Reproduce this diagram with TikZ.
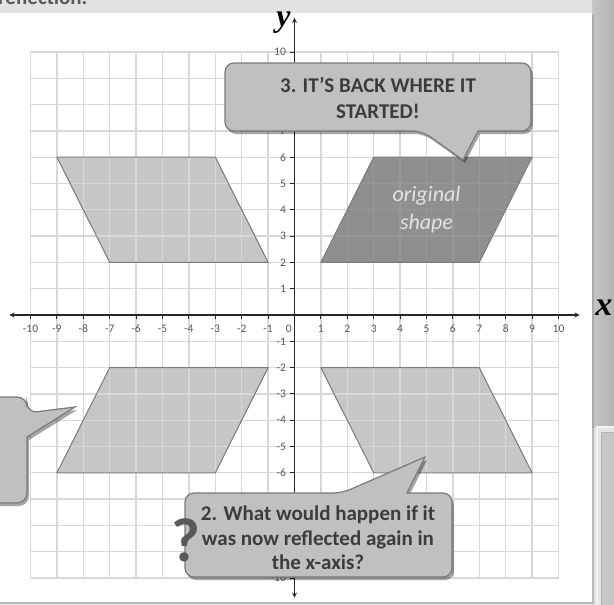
\documentclass[tikz,border=0pt]{standalone}
\usepackage{fontspec}
\setmainfont{Carlito}
\newfontfamily\letterfont{Liberation Serif}
\usetikzlibrary{shadows}

\definecolor{pagegrey}{HTML}{E2E2E2}
\definecolor{gridgrey}{HTML}{D8D8D8}
\definecolor{lightshape}{HTML}{C6C6C6}
\definecolor{darkshape}{HTML}{8F8F8F}
\definecolor{edgegrey}{HTML}{7A7A7A}
\definecolor{bubblegrey}{HTML}{C0C0C0}
\definecolor{inkgrey}{HTML}{3C3C3C}

\tikzstyle{gridline} = [draw=gridgrey, line width=1.3pt, step=1]
\tikzstyle{axisline} = [line width=1.3pt, draw=black!85, <->, >=stealth]
\tikzstyle{axistick} = [line width=0.9pt, draw=black!85]
\tikzstyle{ticklabel} = [inner sep=0pt, text=black!65, font=\fontsize{11.5}{11.5}\selectfont]
\tikzstyle{shapeedge} = [draw=edgegrey, line width=1pt, line join=round]
\tikzset{
  bubble/.style={
    fill=bubblegrey,
    draw=edgegrey,
    line width=1.2pt,
    drop shadow={shadow xshift=2pt, shadow yshift=-3pt, opacity=0.35, fill=black}
  },
  bubbletext/.style={text=inkgrey, align=center, font=\fontsize{21}{26}\selectfont\bfseries}
}

\begin{document}
\begin{tikzpicture}[x=1pt, y=-1pt]
  \useasboundingbox (0,0) rectangle (614,605);
  \clip (0,0) rectangle (614,605);
  % page behind the panel
  \fill[pagegrey] (0,0) rectangle (614,605);
  \shade[left color=gray!45, right color=gray!60] (592,0) rectangle (614,427);
  \filldraw[fill=gray!20, draw=gray!10, line width=1.5pt] (597,427) rectangle (620,610);
  \filldraw[fill=gray!45, draw=gray!60, line width=1pt] (601,432) rectangle (620,610);
  \node (title) [anchor=base west, inner sep=0pt, text=black!65, font=\fontsize{21}{21}\selectfont\bfseries] at (-2,5) {reflection.};
  \fill[white, drop shadow={shadow xshift=2pt, shadow yshift=-2pt, opacity=0.4}] (-10,13) rectangle (592,602);

  \begin{scope}[shift={(294.5,315)}, x=26.4pt, y=26.3pt]
    \foreach \sx/\sy in {-1/1, -1/-1, 1/-1}
      \fill[lightshape] (\sx*1,\sy*2) -- (\sx*7,\sy*2) -- (\sx*9,\sy*6) -- (\sx*3,\sy*6) -- cycle;
    \draw[gridline] (-10,-10) grid (10,10);
    \begin{scope}
      \clip (1,2) -- (7,2) -- (9,6) -- (3,6) -- cycle;
      \fill[darkshape] (1,2) rectangle (9,6);
      \draw[gridline, draw opacity=0.12] (-10,-10) grid (10,10);
    \end{scope}
    \foreach \sx/\sy in {1/1, -1/1, -1/-1, 1/-1}
      \draw[shapeedge] (\sx*1,\sy*2) -- (\sx*7,\sy*2) -- (\sx*9,\sy*6) -- (\sx*3,\sy*6) -- cycle;
    \draw[axisline] (-10.8,0) -- (10.8,0);
    \draw[axisline] (0,-10.75) -- (0,11.3);
    \foreach \i in {-10,...,-1,1,2,...,10} {
      \draw[axistick] (\i,0) -- (\i,-0.16);
      \node (xl\i) [ticklabel, anchor=north] at (\i,-0.36) {\i};
      \draw[axistick] (0,\i) -- (-0.16,\i);
      \node (yl\i) [ticklabel, anchor=east] at (-0.32,\i) {\i};
    }
    \node (xl0) [ticklabel, anchor=north] at (-0.22,-0.36) {0};
    \node (xname) [font=\letterfont\fontsize{34}{34}\selectfont\bfseries\itshape] at (11.72,0.27) {x};
    \node (yname) [font=\letterfont\fontsize{32}{32}\selectfont\bfseries\itshape] at (-0.42,11.1) {y};
    \node (orig) [text=gray!22, align=center, font=\fontsize{22}{28}\selectfont\itshape] at (5,4) {original\\shape};
  \end{scope}

  % bubble pointing at the original shape
  \coordinate (b3nw) at (225,63);
  \coordinate (b3ne) at (531,63);
  \coordinate (b3se) at (531,131);
  \coordinate (b3sw) at (225,131);
  \coordinate (b3tl) at (422,131);
  \coordinate (b3tr) at (478,131);
  \coordinate (b3tip) at (463,160);
  \draw[bubble] (b3tl) -- (b3tip) -- (b3tr) [rounded corners=9pt] -- (b3se) -- (b3ne) -- (b3nw) -- (b3sw) -- cycle;
  \node (back) [bubbletext] at (378,98) {3. IT'S BACK WHERE IT\\STARTED!};

  % bubble with the question
  \coordinate (b2nw) at (185,493);
  \coordinate (b2ne) at (452,493);
  \coordinate (b2se) at (452,577);
  \coordinate (b2sw) at (185,577);
  \coordinate (b2tl) at (342,493);
  \coordinate (b2tr) at (407,493);
  \coordinate (b2tip) at (425,457);
  \draw[bubble] (b2tl) -- (b2tip) -- (b2tr) [rounded corners=9pt] -- (b2ne) -- (b2se) -- (b2sw) -- (b2nw) -- cycle;
  \node (again) [bubbletext, font=\fontsize{21}{24.5}\selectfont\bfseries] at (318,538) {2. What would happen if it\\was now reflected again in\\the x-axis?};
  \node (ask) [text=black!65, font=\fontsize{62}{62}\selectfont\bfseries] at (186,540) {?};

  % bubble cut off on the left
  \coordinate (b1nw) at (-60,397);
  \coordinate (b1ne) at (27,397);
  \coordinate (b1se) at (27,503);
  \coordinate (b1sw) at (-60,503);
  \coordinate (b1tu) at (27,413);
  \coordinate (b1tb) at (27,437);
  \coordinate (b1tip) at (75,407);
  \draw[bubble] (b1tu) -- (b1tip) -- (b1tb) [rounded corners=10pt] -- (b1se) -- (b1sw) -- (b1nw) -- (b1ne) -- cycle;
\end{tikzpicture}
\end{document}
